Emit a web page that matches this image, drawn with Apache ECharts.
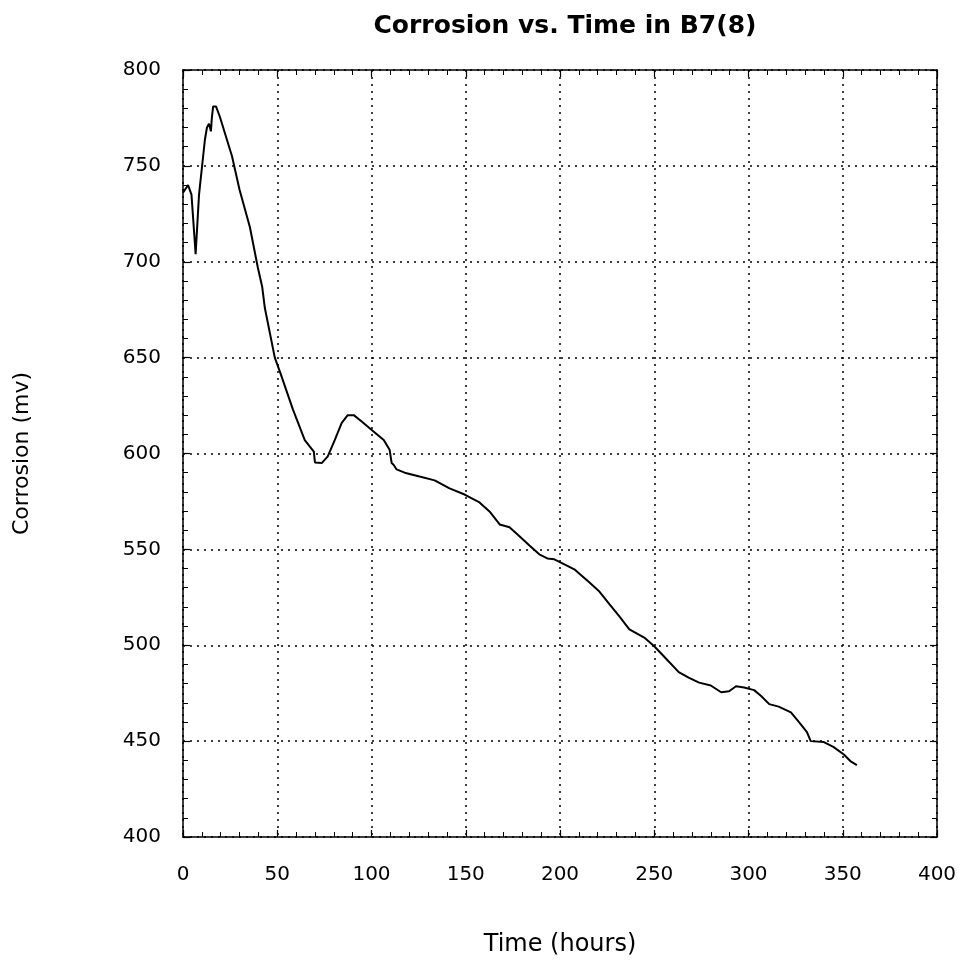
<!DOCTYPE html>
<html>
<head>
<meta charset="utf-8">
<script src="https://cdn.jsdelivr.net/npm/echarts@6/dist/echarts.min.js"></script>
<style>html,body{margin:0;padding:0;background:#fff;}#c{width:974px;height:977px;}</style>
</head>
<body>
<div id="c"></div>
<script>
var titleText = 'Corrosion vs. Time in B7(8)';
var xLabel = 'Time (hours)';
var yLabel = 'Corrosion (mv)';
var timeHours = [0, 2.7, 4.5, 6.7, 8.5, 11.6, 12.7, 13.8, 14.8, 15.3, 16, 17.5, 19.6, 26, 30, 35.5, 39.7, 42, 43.4, 48.7, 51.4, 58.3, 64.6, 69.4, 70, 73.6, 76.8, 80.5, 84.2, 87.4, 90.6, 94.8, 101.7, 106.5, 109.6, 110.7, 111.8, 113.3, 117.6, 125.5, 133.5, 141.4, 149.4, 157.3, 162.6, 168, 173.2, 178.5, 183.8, 189, 193.3, 197, 201.3, 207.6, 215.5, 220.9, 226.2, 231.5, 236.8, 244.7, 250, 255.3, 263, 268.5, 273.8, 280, 285.5, 289.7, 293.4, 297.7, 303, 306.7, 311, 316, 322.5, 326.8, 331, 333, 340, 345, 350.6, 354, 357.5];
var corrosionMv = [736, 740, 735, 704, 735, 763.5, 770, 772, 768, 775, 781, 781, 775.5, 755, 737.5, 718, 697, 687, 676, 650, 642.7, 623, 607, 601, 595.3, 595, 598.5, 607, 616, 620, 620, 616.7, 611, 607, 602, 595, 594, 591.7, 590, 588, 586, 581.8, 578.6, 574.5, 569.8, 563, 561.5, 556.8, 552, 547.4, 545.3, 544.8, 542.7, 539.6, 532.8, 528, 521.4, 515, 508.3, 504, 499.5, 494, 486, 483, 480.5, 479, 475.5, 476, 478.6, 478, 476.6, 473.5, 469.3, 468, 465, 459.9, 454.7, 450, 449.5, 447, 443, 439.6, 437.5];
var xMin = 0, xMax = 400, xStep = 50;
var yMin = 400, yMax = 800, yStep = 50;

var data = timeHours.map(function (t, i) { return [t, corrosionMv[i]]; });
var font = '"DejaVu Sans", "Liberation Sans", sans-serif';
var chart = echarts.init(document.getElementById('c'), null, {renderer: 'canvas'});
var axisLineStyle = {color: '#000', width: 1.5};
function baseAxis(pos, showLabel, showGrid, isX) {
  return {
    type: 'value', position: pos,
    min: isX ? xMin : yMin, max: isX ? xMax : yMax, interval: isX ? xStep : yStep,
    axisLine: {show: true, onZero: false, lineStyle: axisLineStyle},
    axisTick: {show: true, inside: true, length: 7, lineStyle: {color: '#000', width: 1.2}},
    minorTick: {show: true, splitNumber: 5, length: 5, lineStyle: {color: '#000', width: 1}},
    axisLabel: {show: showLabel, color: '#000', fontSize: 20, fontFamily: font, margin: isX ? 28 : 22},
    splitLine: {show: showGrid, lineStyle: {color: '#000', type: [2, 5], width: 1.5}}
  };
}
var option = {
  backgroundColor: '#fff',
  animation: false,
  title: {text: titleText, left: 560, top: 9, textAlign: 'center',
    textStyle: {fontSize: 25, fontWeight: 'bold', color: '#000', fontFamily: font}},
  grid: {left: 183, right: 37, top: 70, bottom: 140, containLabel: false},
  xAxis: [
    Object.assign(baseAxis('bottom', true, true, true), {
      name: xLabel, nameLocation: 'middle', nameGap: 96,
      nameTextStyle: {fontSize: 24, color: '#000', fontFamily: font}
    }),
    baseAxis('top', false, false, true)
  ],
  yAxis: [
    Object.assign(baseAxis('left', true, true, false), {
      name: yLabel, nameLocation: 'middle', nameGap: 150, nameRotate: 90,
      nameTextStyle: {fontSize: 22, color: '#000', fontFamily: font}
    }),
    baseAxis('right', false, false, false)
  ],
  series: [{
    type: 'line', data: data, xAxisIndex: 0, yAxisIndex: 0,
    showSymbol: false, smooth: false,
    lineStyle: {color: '#000', width: 2}
  }]
};
chart.setOption(option);
</script>
</body>
</html>
